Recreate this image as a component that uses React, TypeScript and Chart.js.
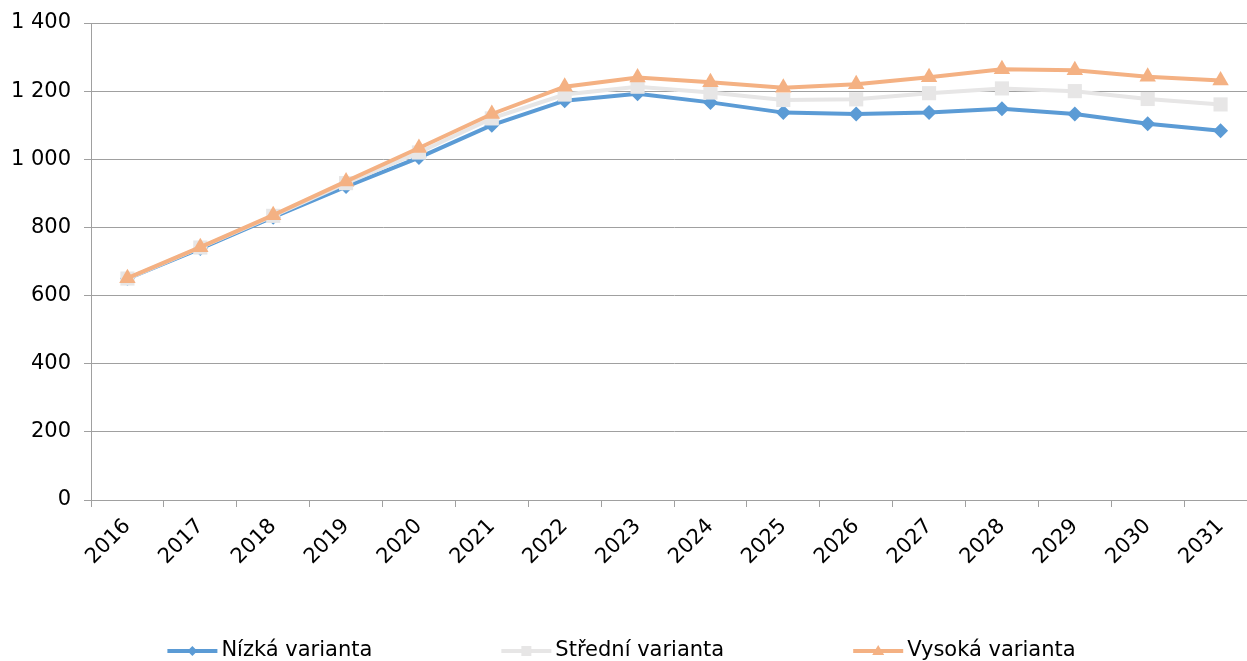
import React, { useEffect, useRef } from "react";
import { Chart, registerables } from "chart.js";

Chart.register(...registerables);

const years = ["2016", "2017", "2018", "2019", "2020", "2021", "2022", "2023", "2024", "2025", "2026", "2027", "2028", "2029", "2030", "2031"];
const lowValues = [650, 738, 830, 920, 1005, 1100, 1172, 1192, 1167, 1137, 1133, 1137, 1148, 1133, 1104, 1084];
const midValues = [650, 741, 834, 930, 1020, 1120, 1190, 1213, 1196, 1174, 1176, 1194, 1208, 1200, 1177, 1161];
const highValues = [651, 742, 836, 935, 1033, 1133, 1213, 1240, 1226, 1210, 1220, 1241, 1264, 1261, 1242, 1231];
const seriesNames = ["Nízká varianta", "Střední varianta", "Vysoká varianta"];
const yTicks = [0, 200, 400, 600, 800, 1000, 1200, 1400];

const COLORS = ["#5B9BD5", "#E7E6E6", "#F4B183"];
const FONT = "DejaVu Sans";
const FONT_SIZE = 21;
const VIEW_W = 1247;

function fmt(v: number): string {
  return String(v).replace(/\B(?=(\d{3})+(?!\d))/g, " ");
}

const legendPlugin = {
  id: "customLegend",
  afterDraw(chart: any) {
    const ctx = chart.ctx;
    ctx.save();
    ctx.font = `${FONT_SIZE}px "${FONT}"`;
    ctx.textBaseline = "middle";
    const lineW = 50;
    const gapText = 4;
    const gap = 129;
    const widths = seriesNames.map((n) => lineW + gapText + ctx.measureText(n).width);
    const total = widths.reduce((a, b) => a + b, 0) + gap * (seriesNames.length - 1);
    let x = VIEW_W / 2 - total / 2 - 2;
    const y = 651;
    seriesNames.forEach((name, i) => {
      ctx.strokeStyle = COLORS[i];
      ctx.fillStyle = COLORS[i];
      ctx.lineWidth = 4;
      ctx.beginPath();
      ctx.moveTo(x, y);
      ctx.lineTo(x + lineW, y);
      ctx.stroke();
      const cx = x + lineW / 2;
      ctx.beginPath();
      if (i === 0) {
        ctx.moveTo(cx, y - 5);
        ctx.lineTo(cx + 5, y);
        ctx.lineTo(cx, y + 5);
        ctx.lineTo(cx - 5, y);
      } else if (i === 1) {
        ctx.rect(cx - 5, y - 5, 10, 10);
      } else {
        ctx.moveTo(cx, y - 6);
        ctx.lineTo(cx + 6, y + 4);
        ctx.lineTo(cx - 6, y + 4);
      }
      ctx.closePath();
      ctx.fill();
      ctx.fillStyle = "#000";
      ctx.fillText(name, x + lineW + gapText, y);
      x += widths[i] + gap;
    });
    ctx.restore();
  },
};

export default function App() {
  const ref = useRef<HTMLCanvasElement | null>(null);
  useEffect(() => {
    if (!ref.current) return;
    const chart = new Chart(ref.current, {
      type: "line",
      data: {
        labels: years,
        datasets: [
          {
            label: seriesNames[0],
            data: lowValues,
            borderColor: COLORS[0],
            backgroundColor: COLORS[0],
            borderWidth: 4,
            pointStyle: "rectRot",
            pointRadius: 7.5,
            pointBorderWidth: 0,
            order: 3,
          },
          {
            label: seriesNames[1],
            data: midValues,
            borderColor: COLORS[1],
            backgroundColor: COLORS[1],
            borderWidth: 4,
            pointStyle: "rect",
            pointRadius: 10,
            pointBorderWidth: 0,
            order: 2,
          },
          {
            label: seriesNames[2],
            data: highValues,
            borderColor: COLORS[2],
            backgroundColor: COLORS[2],
            borderWidth: 4,
            pointStyle: "triangle",
            pointRadius: 9.5,
            pointBorderWidth: 0,
            order: 1,
          },
        ],
      },
      options: {
        animation: false,
        responsive: true,
        maintainAspectRatio: false,
        layout: { padding: { top: 23, right: 0, left: 0, bottom: 0 } },
        plugins: {
          legend: { display: false },
          tooltip: { enabled: false },
        },
        scales: {
          x: {
            offset: true,
            grid: {
              offset: true,
              drawOnChartArea: false,
              drawTicks: true,
              tickLength: 7,
              color: "#a0a0a0",
            },
            border: { color: "#a0a0a0", width: 1 },
            ticks: {
              maxRotation: 45,
              minRotation: 45,
              padding: 7,
              color: "#000",
              font: { family: FONT, size: FONT_SIZE },
              autoSkip: false,
            },
            afterFit(scale: any) {
              scale.height = 161;
              scale.paddingRight = 0;
              scale.paddingLeft = 0;
            },
          },
          y: {
            min: 0,
            max: 1400,
            afterBuildTicks(scale: any) {
              scale.ticks = yTicks.map((v) => ({ value: v }));
            },
            grid: {
              color: "#a0a0a0",
              lineWidth: 1,
              tickLength: 7,
              drawTicks: true,
            },
            border: { color: "#a0a0a0", width: 1 },
            ticks: {
              padding: 13,
              color: "#000",
              font: { family: FONT, size: FONT_SIZE },
              callback: (v: any) => fmt(Number(v)),
            },
            afterFit(scale: any) {
              scale.width = 91;
              scale.paddingTop = 0;
              scale.paddingBottom = 0;
            },
          },
        },
      },
      plugins: [legendPlugin],
    });
    return () => chart.destroy();
  }, []);
  return (
    <div style={{ position: "absolute", left: 0, top: 0, width: VIEW_W, height: 661, overflow: "hidden" }}>
      <div style={{ position: "relative", width: 1267, height: 661 }}>
        <canvas ref={ref} />
      </div>
    </div>
  );
}
